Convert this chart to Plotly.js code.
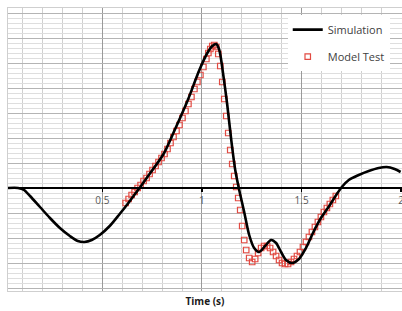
<!DOCTYPE html>
<html>
<head>
<meta charset="utf-8">
<script src="https://cdn.plot.ly/plotly-3.0.1.min.js"></script>
<style>html,body{margin:0;padding:0;background:#fff;}#chart{width:402px;height:311px;}</style>
</head>
<body>
<div id="chart"></div>
<script>
// Simulation (black line)
const simTime = [0.027,0.077,0.107,0.137,0.187,0.237,0.287,0.337,0.377,0.41,0.447,0.487,0.537,0.587,0.627,0.66,0.687,0.737,0.807,0.862,0.927,0.987,1.027,1.052,1.072,1.087,1.107,1.127,1.147,1.167,1.187,1.212,1.237,1.262,1.287,1.317,1.347,1.372,1.397,1.422,1.452,1.487,1.522,1.557,1.597,1.642,1.677,1.702,1.737,1.787,1.837,1.887,1.927,1.967,1.997];
const simValue = [0,0,-0.08,-0.32,-0.76,-1.2,-1.6,-1.92,-2.12,-2.16,-2.08,-1.88,-1.52,-1.04,-0.64,-0.28,0,0.56,1.36,2.3,3.48,4.72,5.4,5.68,5.76,5.52,4.52,3.32,1.92,0.72,-0.08,-0.96,-1.88,-2.4,-2.56,-2.32,-2.08,-2.2,-2.56,-2.88,-3.0,-2.84,-2.4,-1.8,-1.2,-0.68,-0.24,0.04,0.32,0.52,0.68,0.8,0.84,0.76,0.64];

// Model Test (red open squares)
const testTime = [0.617,0.632,0.647,0.662,0.677,0.692,0.707,0.722,0.737,0.752,0.767,0.782,0.797,0.812,0.827,0.842,0.857,0.872,0.887,0.902,0.917,0.932,0.947,0.962,0.977,0.992,1.007,1.022,1.032,1.042,1.052,1.062,1.072,1.082,1.092,1.102,1.112,1.122,1.132,1.142,1.152,1.162,1.172,1.182,1.192,1.202,1.212,1.222,1.237,1.252,1.267,1.282,1.297,1.312,1.327,1.342,1.357,1.372,1.387,1.402,1.417,1.432,1.447,1.462,1.477,1.492,1.507,1.522,1.537,1.552,1.567,1.582,1.597,1.612,1.627,1.642,1.657,1.672];
const testValue = [-0.60,-0.44,-0.28,-0.16,0,0.12,0.28,0.40,0.56,0.72,0.88,1.04,1.20,1.36,1.56,1.80,2.04,2.28,2.52,2.80,3.08,3.36,3.64,3.96,4.24,4.52,4.84,5.16,5.40,5.56,5.68,5.72,5.64,5.36,4.88,4.24,3.56,2.88,2.20,1.52,0.96,0.48,0.04,-0.40,-0.88,-1.52,-2.08,-2.48,-2.80,-2.96,-2.84,-2.60,-2.40,-2.32,-2.32,-2.40,-2.56,-2.72,-2.88,-3.00,-3.04,-3.04,-2.96,-2.84,-2.72,-2.56,-2.36,-2.16,-1.96,-1.76,-1.56,-1.36,-1.16,-0.96,-0.80,-0.64,-0.48,-0.32];

const xTickVals = [0.5, 1, 1.5, 2];
const xTickText = ['0.5', '1', '1.5', '2'];
const xRange = [0.0265, 2.004];
const yRange = [-4.12, 7.2];
const zeroFrac = (0 - yRange[0]) / (yRange[1] - yRange[0]);

const traces = [
  {
    x: testTime, y: testValue, name: 'Model Test', type: 'scatter', mode: 'markers',
    xaxis: 'x', yaxis: 'y', legendgroup: 'b', legendrank: 2,
    marker: {symbol: 'square-open', size: 5.5, color: '#e24a42', line: {width: 1.2, color: '#e24a42'}}
  },
  {
    x: simTime, y: simValue, name: 'Simulation', type: 'scatter', mode: 'lines',
    xaxis: 'x2', yaxis: 'y', legendgroup: 'a', legendrank: 1,
    line: {color: '#000000', width: 2.6, shape: 'spline', smoothing: 0.8}
  }
];

const layout = {
  width: 402, height: 311,
  margin: {l: 8, r: 0, t: 8, b: 20},
  paper_bgcolor: '#ffffff', plot_bgcolor: '#ffffff',
  showlegend: true,
  legend: {
    x: 0.71, y: 0.975, xanchor: 'left', yanchor: 'top',
    bgcolor: '#ffffff', borderwidth: 0,
    traceorder: 'grouped', tracegroupgap: 8,
    font: {family: 'Open Sans, sans-serif', size: 11, color: '#404040'}
  },
  xaxis: {
    range: xRange, tick0: 0, dtick: 0.5,
    showgrid: true, gridcolor: '#9a9a9a', gridwidth: 1,
    minor: {dtick: 0.1, showgrid: true, gridcolor: '#d0d0d0', gridwidth: 1},
    showticklabels: false, ticks: '', zeroline: false,
    showline: true, linecolor: '#cfcfcf', mirror: true,
    title: {text: '<b>Time (s)</b>', standoff: 6, font: {family: 'Open Sans, sans-serif', size: 10, color: '#1a1a1a'}}
  },
  xaxis2: {
    range: xRange, overlaying: 'x', anchor: 'free', position: zeroFrac,
    tickmode: 'array', tickvals: xTickVals, ticktext: xTickText,
    ticklabeloverflow: 'allow',
    showgrid: false, zeroline: false,
    showline: true, linecolor: '#000000', linewidth: 2,
    ticks: 'outside', ticklen: 3, tickcolor: '#000000', tickwidth: 1.5,
    tickfont: {family: 'Open Sans, sans-serif', size: 10, color: '#595959'}
  },
  yaxis: {
    range: yRange, tick0: 0, dtick: 1,
    showgrid: true, gridcolor: '#b4b4b4', gridwidth: 1,
    minor: {dtick: 0.2, showgrid: true, gridcolor: '#dedede', gridwidth: 1},
    showticklabels: false, ticks: '', zeroline: false,
    showline: true, linecolor: '#cfcfcf', mirror: true
  }
};

Plotly.newPlot('chart', traces, layout, {displayModeBar: false, staticPlot: true});
</script>
</body>
</html>
